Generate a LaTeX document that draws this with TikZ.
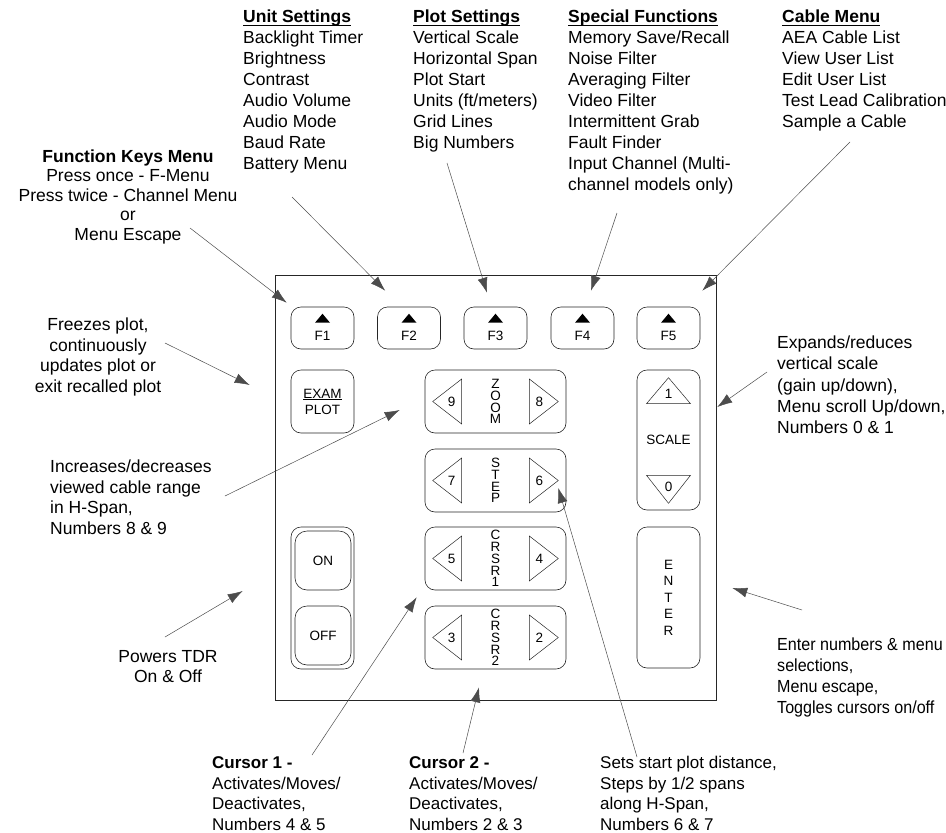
\documentclass[tikz,border=0pt]{standalone}
\usepackage{fontspec}
\setmainfont{Liberation Sans}
\newfontfamily\narrowsans[FakeStretch=0.92]{Liberation Sans}
\usetikzlibrary{arrows.meta,calc,positioning}
\newcommand{\menuhead}[1]{\setbox0\hbox{\textbf{#1}}\rlap{\rule[-3pt]{\wd0}{1pt}}\box0}

\begin{document}
\begin{tikzpicture}[x=1pt,y=-1pt,
  key/.style={draw=black!85,line width=0.6pt,rounded corners=10pt,inner sep=0pt},
  keytext/.style={font=\fontsize{13.5}{16}\selectfont,inner sep=0pt},
  keystack/.style={font=\fontsize{13.5}{11.8}\selectfont,inner sep=0pt,align=center},
  arrowkey/.style={draw=black!85,line width=0.5pt},
  note/.style={font=\fontsize{17.5}{21}\selectfont,inner sep=0pt,align=left,anchor=base west},
  pointer/.style={draw=black!70,line width=0.5pt,-{Latex[length=15pt,width=10pt]}}]

\useasboundingbox (0,0) rectangle (946,833);
\draw[line width=1pt,black!85] (275,275) rectangle (716,700);

\node[key,minimum width=63pt,minimum height=42pt] (f1) at (322.5,328) {};
\node[key,minimum width=63pt,minimum height=42pt] (f2) at (409,328) {};
\node[key,minimum width=63pt,minimum height=42pt] (f3) at (495.5,328) {};
\node[key,minimum width=63pt,minimum height=42pt] (f4) at (582.5,328) {};
\node[key,minimum width=63pt,minimum height=42pt] (f5) at (668.5,328) {};
\fill ($(f1.north)+(0,7)$) -- ++(7.5,9) -- ++(-15,0) -- cycle;
\fill ($(f2.north)+(0,7)$) -- ++(7.5,9) -- ++(-15,0) -- cycle;
\fill ($(f3.north)+(0,7)$) -- ++(7.5,9) -- ++(-15,0) -- cycle;
\fill ($(f4.north)+(0,7)$) -- ++(7.5,9) -- ++(-15,0) -- cycle;
\fill ($(f5.north)+(0,7)$) -- ++(7.5,9) -- ++(-15,0) -- cycle;
\node[keytext] (f1-lbl) at ($(f1.north)+(0,29)$) {F1};
\node[keytext] (f2-lbl) at ($(f2.north)+(0,29)$) {F2};
\node[keytext] (f3-lbl) at ($(f3.north)+(0,29)$) {F3};
\node[keytext] (f4-lbl) at ($(f4.north)+(0,29)$) {F4};
\node[keytext] (f5-lbl) at ($(f5.north)+(0,29)$) {F5};

\node[key,minimum width=63pt,minimum height=63pt,keytext,align=center] (exam) at (322.5,401.5) {\underline{EXAM}\\PLOT};

\node[key,minimum width=141pt,minimum height=63pt] (zoom) at (495.5,401.5) {};
\node[key,minimum width=141pt,minimum height=63pt] (step) at (495.5,480.5) {};
\node[key,minimum width=141pt,minimum height=63pt] (crsr1) at (495.5,558.5) {};
\node[key,minimum width=141pt,minimum height=63pt] (crsr2) at (495.5,637.5) {};
\node[keystack] (zoom-txt) at (zoom) {Z\\O\\O\\M};
\node[keystack] (step-txt) at (step) {S\\T\\E\\P};
\node[keystack] (crsr1-txt) at (crsr1) {C\\R\\S\\R\\1};
\node[keystack] (crsr2-txt) at (crsr2) {C\\R\\S\\R\\2};
\draw[arrowkey] ($(zoom.west)+(8,0)$) -- ++(29,-22.5) -- ++(0,45) -- cycle;
\draw[arrowkey] ($(zoom.east)+(-8,0)$) -- ++(-29,-22.5) -- ++(0,45) -- cycle;
\draw[arrowkey] ($(step.west)+(8,0)$) -- ++(29,-22.5) -- ++(0,45) -- cycle;
\draw[arrowkey] ($(step.east)+(-8,0)$) -- ++(-29,-22.5) -- ++(0,45) -- cycle;
\draw[arrowkey] ($(crsr1.west)+(8,0)$) -- ++(29,-22.5) -- ++(0,45) -- cycle;
\draw[arrowkey] ($(crsr1.east)+(-8,0)$) -- ++(-29,-22.5) -- ++(0,45) -- cycle;
\draw[arrowkey] ($(crsr2.west)+(8,0)$) -- ++(29,-22.5) -- ++(0,45) -- cycle;
\draw[arrowkey] ($(crsr2.east)+(-8,0)$) -- ++(-29,-22.5) -- ++(0,45) -- cycle;
\node[keytext] (zoom-l) at ($(zoom.west)+(27,0)$) {9};
\node[keytext] (zoom-r) at ($(zoom.east)+(-27,0)$) {8};
\node[keytext] (step-l) at ($(step.west)+(27,0)$) {7};
\node[keytext] (step-r) at ($(step.east)+(-27,0)$) {6};
\node[keytext] (crsr1-l) at ($(crsr1.west)+(27,0)$) {5};
\node[keytext] (crsr1-r) at ($(crsr1.east)+(-27,0)$) {4};
\node[keytext] (crsr2-l) at ($(crsr2.west)+(27,0)$) {3};
\node[keytext] (crsr2-r) at ($(crsr2.east)+(-27,0)$) {2};

\node[key,minimum width=63pt,minimum height=140pt] (scale) at (668.5,440) {};
\node[keytext] (scale-txt) at (scale) {SCALE};
\draw[arrowkey] ($(scale.north)+(0,8)$) -- ++(22,26) -- ++(-44,0) -- cycle;
\draw[arrowkey] ($(scale.south)+(0,-7)$) -- ++(22,-28) -- ++(-44,0) -- cycle;
\node[keytext] (scale-up) at ($(scale.north)+(0,24)$) {1};
\node[keytext] (scale-dn) at ($(scale.south)+(0,-23)$) {0};

\node[key,minimum width=63pt,minimum height=141pt] (enter) at (668.5,597.5) {};
\node[keystack,font=\fontsize{13.5}{16.5}\selectfont] (enter-txt) at (enter) {E\\N\\T\\E\\R};

\node[key,minimum width=63pt,minimum height=142pt] (pwr) at (322.5,598) {};
\node[key,minimum width=56pt,minimum height=59pt,rounded corners=12pt] (on) at (323,560.5) {};
\node[key,minimum width=56pt,minimum height=59pt,rounded corners=12pt] (off) at (323,635.5) {};
\node[keytext] (on-txt) at (on) {ON};
\node[keytext] (off-txt) at (off) {OFF};

\node[note,align=center,anchor=base,font=\fontsize{17.5}{19.6}\selectfont] (fkm) at (128,240.5) {\textbf{Function Keys Menu}\\Press once - F-Menu\\Press twice - Channel Menu\\or\\Menu Escape};
\node[note] (unit) at (243,169.5) {\menuhead{Unit Settings}\\Backlight Timer\\Brightness\\Contrast\\Audio Volume\\Audio Mode\\Baud Rate\\Battery Menu};
\node[note] (plot) at (413,148.5) {\menuhead{Plot Settings}\\Vertical Scale\\Horizontal Span\\Plot Start\\Units (ft/meters)\\Grid Lines\\Big Numbers};
\node[note] (special) at (568,190.5) {\menuhead{Special Functions}\\Memory Save/Recall\\Noise Filter\\Averaging Filter\\Video Filter\\Intermittent Grab\\Fault Finder\\Input Channel (Multi-\\channel models only)};
\node[note] (cable) at (782,127.5) {\menuhead{Cable Menu}\\AEA Cable List\\View User List\\Edit User List\\Test Lead Calibration\\Sample a Cable};
\node[note,align=center,anchor=base,font=\fontsize{17.5}{20.7}\selectfont] (freeze) at (98,392.5) {Freezes plot,\\continuously\\updates plot or\\exit recalled plot};
\node[note,font=\fontsize{17.5}{20.7}\selectfont] (span) at (50,534.5) {Increases/decreases\\viewed cable range\\in H-Span,\\Numbers 8 \& 9};
\node[note,align=center,anchor=base,font=\fontsize{17.5}{20}\selectfont] (power) at (168,682.5) {Powers TDR\\On \& Off};
\node[note,font=\fontsize{17}{20.7}\selectfont] (cur1) at (212,830.5) {\textbf{Cursor 1 -}\\Activates/Moves/\\Deactivates,\\Numbers 4 \& 5};
\node[note,font=\fontsize{17}{20.7}\selectfont] (cur2) at (409,830.5) {\textbf{Cursor 2 -}\\Activates/Moves/\\Deactivates,\\Numbers 2 \& 3};
\node[note,font=\fontsize{17}{20.7}\selectfont] (start) at (600,830.5) {Sets start plot distance,\\Steps by 1/2 spans\\along H-Span,\\Numbers 6 \& 7};
\node[note,font=\fontsize{17.5}{21.2}\selectfont] (gain) at (777,433.5) {Expands/reduces\\vertical scale\\(gain up/down),\\Menu scroll Up/down,\\Numbers 0 \& 1};
\node[note,font=\narrowsans\fontsize{17.5}{21}\selectfont] (entry) at (777,713.5) {Enter numbers \& menu\\selections,\\Menu escape,\\Toggles cursors on/off};

\coordinate (fkm-end) at (190,228);
\coordinate (unit-end) at (292,197);
\coordinate (plot-end) at (447,163);
\coordinate (special-end) at (617,213);
\coordinate (cable-end) at (850,142);
\coordinate (freeze-end) at (165,343);
\coordinate (span-end) at (225,496);
\coordinate (power-end) at (165,637);
\coordinate (cur1-end) at (312,755);
\coordinate (cur2-end) at (463,753);
\coordinate (start-end) at (637,757);
\coordinate (gain-end) at (767,372);
\coordinate (entry-end) at (802,610);

\draw[pointer] (fkm-end) -- ($(f1.north west)+(-4,-4)$);
\draw[pointer] (unit-end) -- ($(f2.north west)+(8,-16)$);
\draw[pointer] (plot-end) -- ($(f3.north)+(-8.5,-14)$);
\draw[pointer] (special-end) -- ($(f4.north)+(8.5,-16)$);
\draw[pointer] (cable-end) -- ($(f5.north east)+(2,-16)$);
\draw[pointer] (freeze-end) -- ($(exam.west)+(-41,-16.5)$);
\draw[pointer] (span-end) -- ($(zoom.west)+(-25,8.5)$);
\draw[pointer] (power-end) -- ($(pwr.west)+(-48,-7)$);
\draw[pointer] (cur1-end) -- ($(crsr1.south west)+(-8,7)$);
\draw[pointer] (cur2-end) -- ($(crsr2.south)+(-16.5,18)$);
\draw[pointer] (start-end) -- ($(step.east)+(-8,7.5)$);
\draw[pointer] (gain-end) -- ($(scale.east)+(17,-33)$);
\draw[pointer] (entry-end) -- ($(enter.east)+(32,-9.5)$);
\end{tikzpicture}
\end{document}
